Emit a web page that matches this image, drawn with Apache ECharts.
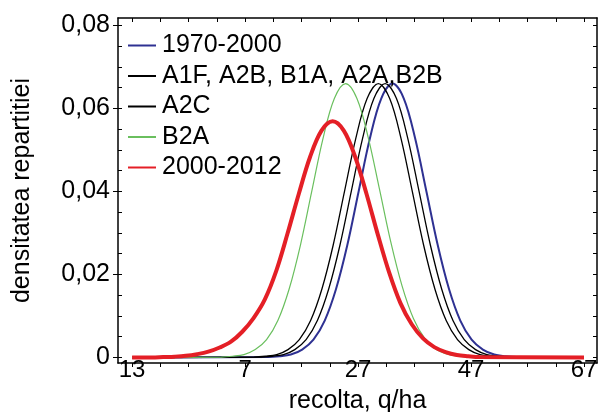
<!DOCTYPE html>
<html><head><meta charset="utf-8">
<script src="https://cdn.jsdelivr.net/npm/echarts@6/dist/echarts.min.js"></script>
<style>html,body{margin:0;padding:0;background:#fff}#c{width:598px;height:412px}</style>
</head><body><div id="c"></div>
<script>
// Tick positions and labels
const xTickValues = [-13, 7, 27, 47, 67];
const xTickLabels = ['13', '7', '27', '47', '67'];
const xMinorTicks = [-13, -8, -3, 2, 7, 12, 17, 22, 27, 32, 37, 42, 47, 52, 57, 62, 67];
const yTickValues = [0, 0.02, 0.04, 0.06, 0.08];
const yTickLabels = ['0', '0,02', '0,04', '0,06', '0,08'];
const yMinorTicks = [0, 0.005, 0.01, 0.015, 0.02, 0.025, 0.03, 0.035, 0.04, 0.045, 0.05, 0.055, 0.06, 0.065, 0.07, 0.075, 0.08];

// Series names
const seriesNames = ['1970-2000', 'A1F, A2B, B1A, A2A,B2B', 'A2C', 'B2A', '2000-2012'];

// 1970-2000
const x1970 = [-13, 11.1, 13.1, 15.1, 17.1, 19.1, 21.1, 23.1, 25.1, 27.1, 29.1, 31.1, 33.1, 35.1, 37.1, 39.1, 41.1, 43.1, 45.1, 47.1, 49.1, 51.1, 53.1, 55.1, 67];
const y1970 = [0, 0.0001, 0.0003, 0.0007, 0.0019, 0.0043, 0.0089, 0.0165, 0.0271, 0.0400, 0.0528, 0.0624, 0.0660, 0.0624, 0.0528, 0.0400, 0.0271, 0.0165, 0.0089, 0.0043, 0.0019, 0.0007, 0.0003, 0.0001, 0];
// A1F, A2B, B1A, A2A, B2B
const xA1F = [-13, 9.8, 11.8, 13.8, 15.8, 17.8, 19.8, 21.8, 23.8, 25.8, 27.8, 29.8, 31.8, 33.8, 35.8, 37.8, 39.8, 41.8, 43.8, 45.8, 47.8, 49.8, 51.8, 53.8, 67];
const yA1F = [0, 0.0001, 0.0003, 0.0007, 0.0019, 0.0043, 0.0089, 0.0165, 0.0271, 0.0400, 0.0528, 0.0624, 0.0660, 0.0624, 0.0528, 0.0400, 0.0271, 0.0165, 0.0089, 0.0043, 0.0019, 0.0007, 0.0003, 0.0001, 0];
// A2C
const xA2C = [-13, 8.6, 10.6, 12.6, 14.6, 16.6, 18.6, 20.6, 22.6, 24.6, 26.6, 28.6, 30.6, 32.6, 34.6, 36.6, 38.6, 40.6, 42.6, 44.6, 46.6, 48.6, 50.6, 52.6, 67];
const yA2C = [0, 0.0001, 0.0003, 0.0007, 0.0019, 0.0043, 0.0089, 0.0165, 0.0271, 0.0400, 0.0528, 0.0624, 0.0660, 0.0624, 0.0528, 0.0400, 0.0271, 0.0165, 0.0089, 0.0043, 0.0019, 0.0007, 0.0003, 0.0001, 0];
// B2A
const xB2A = [-13, 2.8, 4.8, 6.8, 8.8, 10.8, 12.8, 14.8, 16.8, 18.8, 20.8, 22.8, 24.8, 26.8, 28.8, 30.8, 32.8, 34.8, 36.8, 38.8, 40.8, 42.8, 44.8, 46.8, 67];
const yB2A = [0, 0.0001, 0.0003, 0.0007, 0.0019, 0.0043, 0.0089, 0.0165, 0.0271, 0.0400, 0.0528, 0.0624, 0.0660, 0.0624, 0.0530, 0.0405, 0.0278, 0.0172, 0.0094, 0.0046, 0.0020, 0.0008, 0.0003, 0.0001, 0];
// 2000-2012
const x2000 = [-13, -9.5, -7.5, -5.5, -3.5, -1.5, 0.5, 2.5, 4.5, 6.5, 8.5, 10.5, 12.5, 14.5, 16.5, 18.5, 20.5, 22.5, 24.5, 26.5, 28.5, 30.5, 32.5, 34.5, 36.5, 38.5, 40.5, 42.5, 44.5, 46.5, 48.5, 67];
const y2000 = [0, 0, 0.0001, 0.0002, 0.0004, 0.0008, 0.0014, 0.0024, 0.0038, 0.0062, 0.0095, 0.0140, 0.0208, 0.0298, 0.0394, 0.0483, 0.0546, 0.0569, 0.0546, 0.0483, 0.0394, 0.0296, 0.0205, 0.0131, 0.0080, 0.0046, 0.0025, 0.0013, 0.0006, 0.0003, 0.0001, 0];

const seriesX = [x1970, xA1F, xA2C, xB2A, x2000];
const seriesY = [y1970, yA1F, yA2C, yB2A, y2000];
const seriesColors = ['#2e3192', '#000000', '#000000', '#6abf5e', '#e41f26'];
const seriesWidths = [2, 1.3, 1.3, 1.2, 4];

const FONT = 'Liberation Sans, Arial, sans-serif';
const XMIN = -15.5, XMAX = 69.3, YMIN = -0.00133, YMAX = 0.0818;

const chart = echarts.init(document.getElementById('c'));

const series = seriesNames.map((n, i) => ({
  name: n,
  type: 'line',
  xAxisIndex: 0,
  yAxisIndex: 0,
  data: seriesX[i].map((x, j) => [x, seriesY[i][j]]),
  smooth: 0.35,
  symbol: 'none',
  showSymbol: false,
  animation: false,
  lineStyle: { color: seriesColors[i], width: seriesWidths[i] },
  itemStyle: { color: seriesColors[i] }
}));

chart.setOption({
  animation: false,
  backgroundColor: '#fff',
  textStyle: { fontFamily: FONT, color: '#000' },
  grid: { left: 118, right: 1, top: 18, bottom: 49, containLabel: false, outerBoundsMode: 'none' },
  legend: {
    data: seriesNames,
    orient: 'vertical',
    left: 127,
    top: 33,
    padding: 0,
    itemWidth: 28,
    itemHeight: 12,
    itemGap: 5.5,
    itemStyle: { opacity: 0 },
    textStyle: { fontFamily: FONT, fontSize: 25, color: '#000', padding: [0, 0, 0, 1] }
  },
  xAxis: [
    {
      type: 'value', position: 'bottom', min: XMIN, max: XMAX,
      axisLine: { show: true, onZero: false, lineStyle: { color: '#000', width: 1.5 } },
      axisTick: { show: true, customValues: xMinorTicks, inside: false, length: 4, lineStyle: { color: '#000', width: 1 } },
      axisLabel: {
        customValues: xTickValues, fontSize: 24, color: '#000', fontFamily: FONT, margin: -5,
        formatter: v => { const k = xTickValues.findIndex(t => Math.abs(t - v) < 1e-6); return k >= 0 ? xTickLabels[k] : ''; }
      },
      splitLine: { show: false },
      name: 'recolta, q/ha', nameLocation: 'middle', nameGap: 26,
      nameTextStyle: { fontSize: 25, color: '#000', fontFamily: FONT }
    },
    {
      type: 'value', position: 'top', min: XMIN, max: XMAX,
      axisLine: { show: true, onZero: false, lineStyle: { color: '#000', width: 1.5 } },
      axisTick: { show: true, customValues: xMinorTicks, inside: true, length: 4, lineStyle: { color: '#000', width: 1 } },
      axisLabel: { show: false },
      splitLine: { show: false }
    }
  ],
  yAxis: [
    {
      type: 'value', position: 'left', min: YMIN, max: YMAX,
      axisLine: { show: true, onZero: false, lineStyle: { color: '#000', width: 1.5 } },
      axisTick: { show: true, customValues: yTickValues, inside: false, length: 5, lineStyle: { color: '#000', width: 1 } },
      axisLabel: {
        customValues: yTickValues, fontSize: 25, color: '#000', fontFamily: FONT, margin: 8,
        formatter: v => { const k = yTickValues.findIndex(t => Math.abs(t - v) < 1e-9); return k >= 0 ? yTickLabels[k] : ''; }
      },
      splitLine: { show: false },
      name: 'densitatea repartitiei', nameLocation: 'middle', nameGap: 83, nameRotate: 90,
      nameTextStyle: { fontSize: 25, color: '#000', fontFamily: FONT }
    },
    {
      type: 'value', position: 'left', min: YMIN, max: YMAX,
      axisLine: { show: false, onZero: false },
      axisTick: { show: true, customValues: yMinorTicks, inside: true, length: 4, lineStyle: { color: '#000', width: 1 } },
      axisLabel: { show: false },
      splitLine: { show: false }
    },
    {
      type: 'value', position: 'right', min: YMIN, max: YMAX,
      axisLine: { show: true, onZero: false, lineStyle: { color: '#000', width: 1.5 } },
      axisTick: { show: true, customValues: yMinorTicks, inside: true, length: 4, lineStyle: { color: '#000', width: 1 } },
      axisLabel: { show: false },
      splitLine: { show: false }
    }
  ],
  series: series
});
</script>
</body></html>
